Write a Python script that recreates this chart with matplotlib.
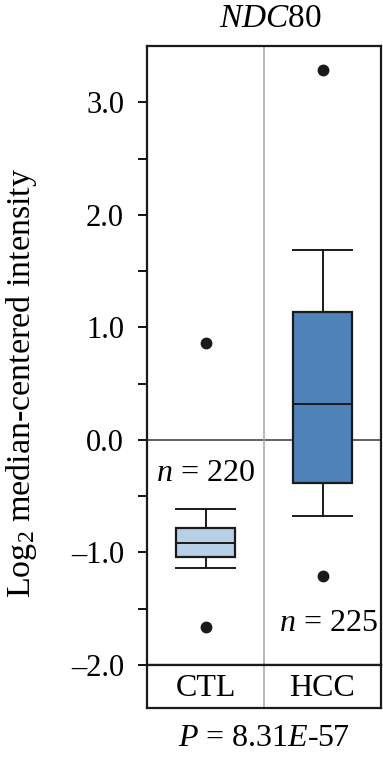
import numpy as np
import matplotlib
matplotlib.use("Agg")
from matplotlib import pyplot as plt

plt.rcParams["font.family"] = ["Liberation Serif", "DejaVu Serif"]
plt.rcParams["mathtext.fontset"] = "custom"
plt.rcParams["mathtext.rm"] = "Liberation Serif"
plt.rcParams["mathtext.it"] = "Liberation Serif:italic"

groups  = ["CTL", "HCC"]
counts  = [220, 225]
q1      = [-1.04, -0.38]
median  = [-0.92, 0.32]
q3      = [-0.78, 1.14]
whislo  = [-1.14, -0.68]
whishi  = [-0.61, 1.69]
fliers  = [[0.86, -1.66], [3.29, -1.21]]
colors  = ["#b7cfe7", "#4e82b8"]
p_text  = "$P$ = 8.31$E$-57"

fig = plt.figure(figsize=(3.83, 7.62), dpi=100)
ax  = fig.add_axes([147/383, 1-665/762, 234/383, 619/762])
ax2 = fig.add_axes([147/383, 1-708/762, 234/383, 43/762])

stats = []
for i in range(len(groups)):
    stats.append(dict(q1=q1[i], med=median[i], q3=q3[i],
                      whislo=whislo[i], whishi=whishi[i], fliers=fliers[i]))

pos = np.arange(1, len(groups)+1)
bp = ax.bxp(stats, positions=pos, widths=0.51, patch_artist=True,
            boxprops=dict(linewidth=1.6, edgecolor="#1a1a1a"),
            medianprops=dict(color="#1a1a1a", linewidth=1.4),
            whiskerprops=dict(color="#1a1a1a", linewidth=1.4),
            capprops=dict(color="#1a1a1a", linewidth=1.4),
            capwidths=0.51,
            flierprops=dict(marker="o", markerfacecolor="#1a1a1a",
                            markeredgecolor="#1a1a1a", markersize=7.5))
for patch, c in zip(bp["boxes"], colors):
    patch.set_facecolor(c)

ax.axhline(0, color="#444444", lw=1.2, zorder=0)
ax.axvline(1.5, color="#aaaaaa", lw=1.2, zorder=0)
ax.set_xlim(0.5, 2.5)
ax.set_ylim(-2.0, 3.5)
ax.set_xticks([])
ax.set_yticks([-2, -1, 0, 1, 2, 3])
ax.set_yticklabels(["%.1f" % v if v >= 0 else "\u2013%.1f" % -v for v in [-2, -1, 0, 1, 2, 3]])
ax.set_yticks(np.arange(-1.5, 3.0, 1.0), minor=True)
ax.tick_params(axis="y", which="both", direction="out", length=6.5, width=1.3,
               labelsize=22, pad=10)
for s in ax.spines.values():
    s.set_linewidth(1.6)
    s.set_color("#1a1a1a")

ax.text(1, -0.3, "$n$ = %d" % counts[0], ha="center", va="center", fontsize=23)
ax.text(2.05, -1.63, "$n$ = %d" % counts[1], ha="center", va="center", fontsize=23)

ax2.set_xlim(0.5, 2.5)
ax2.set_ylim(0, 1)
ax2.set_xticks([])
ax2.set_yticks([])
ax2.axvline(1.5, color="#aaaaaa", lw=1.2)
for s in ax2.spines.values():
    s.set_linewidth(1.6)
    s.set_color("#1a1a1a")
for x, g in zip(pos, groups):
    ax2.text(x, 0.45, g, ha="center", va="center", fontsize=23)

fig.text(270/383, 1-19/762, "$NDC$80", ha="center", va="center", fontsize=24)
fig.text(264/383, 1-738/762, p_text, ha="center", va="center", fontsize=23)
fig.text(22/383, 1-383/762, "Log$_2$ median-centered intensity", rotation=90,
         ha="center", va="center", fontsize=24.5)

fig.savefig("out.png", dpi=100)
